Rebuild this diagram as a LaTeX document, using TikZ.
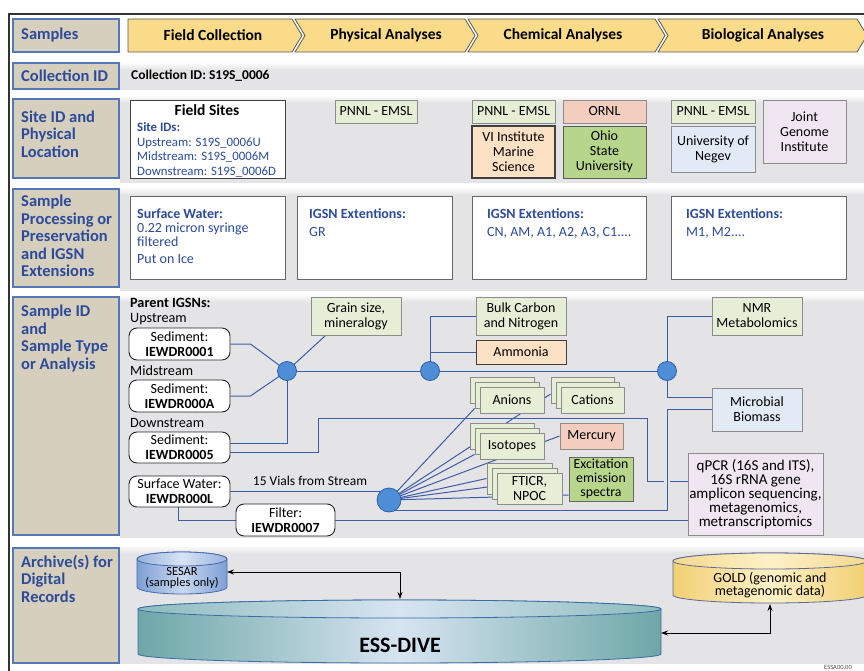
\documentclass[tikz,border=0pt]{standalone}
\usepackage{fontspec}
\setmainfont{Carlito}
\usetikzlibrary{arrows.meta,calc}
\definecolor{labtan}{HTML}{D6CFBD}
\definecolor{labblue}{HTML}{5477B5}
\definecolor{labtxt}{HTML}{2D4B9A}
\definecolor{lineblue}{HTML}{3D5DA9}
\definecolor{dotfill}{HTML}{4E8ED6}
\definecolor{dotdraw}{HTML}{2F5FAA}
\definecolor{chev}{HTML}{F9DB8A}
\definecolor{lgreen}{HTML}{E6EFD6}
\definecolor{peach}{HTML}{FDE1C4}
\definecolor{rose}{HTML}{F3CEBF}
\definecolor{mgreen}{HTML}{B7D68B}
\definecolor{lblue}{HTML}{E2EAF5}
\definecolor{lav}{HTML}{F0E6F1}
\definecolor{band}{HTML}{E4E4E6}
\definecolor{boxgray}{HTML}{8C8C8C}
\definecolor{ess1}{HTML}{6EA7A7}
\definecolor{ess2}{HTML}{D7E4F2}
\definecolor{ess3}{HTML}{8DBCBD}
\definecolor{essb}{HTML}{3A6CA6}
\definecolor{gold1}{HTML}{F2CF72}
\definecolor{gold2}{HTML}{FDF1C8}
\definecolor{goldb}{HTML}{5A6B99}
\definecolor{ses1}{HTML}{7E9FD6}
\definecolor{ses2}{HTML}{C8D8F0}
\definecolor{sesb}{HTML}{4769AE}
\pgfdeclarelayer{back}
\pgfdeclarelayer{wires}
\pgfsetlayers{back,wires,main}
\newcommand\mkbox[7]{\node[#6, minimum width={(#4)-(#2)}, minimum height={(#5)-(#3)}] (#1) at ({((#2)+(#4))/2},{((#3)+(#5))/2}) {#7};}
\newcommand\mkstack[6]{%
 \mkbox{#1c}{(#2)-10}{(#3)-10}{(#4)-10}{(#5)-10}{gbox}{}%
 \mkbox{#1b}{(#2)-5}{(#3)-5}{(#4)-5}{(#5)-5}{gbox}{}%
 \mkbox{#1}{#2}{#3}{#4}{#5}{gbox}{#6}}
\tikzset{
 lab/.style={draw=labblue, fill=labtan, line width=1.2pt, inner sep=0pt},
 labt/.style={text=labtxt, font=\fontsize{16.5}{17.5}\selectfont\bfseries, align=left, anchor=north west, inner sep=0pt},
 gbox/.style={draw=boxgray, fill=lgreen, line width=0.9pt, inner sep=0pt, align=center, font=\fontsize{14}{15}\selectfont},
 wbox/.style={draw=black!60, fill=white, line width=0.9pt, inner sep=0pt},
 rbox/.style={draw=black!85, fill=white, line width=0.9pt, rounded corners=8pt, inner sep=0pt, align=center, font=\fontsize{14}{15}\selectfont},
 hub/.style={circle, fill=dotfill, draw=dotdraw, line width=0.8pt, minimum size=19pt, inner sep=0pt},
 wire/.style={draw=lineblue, line width=1pt},
 chevt/.style={font=\fontsize{15.5}{17}\selectfont\bfseries, inner sep=0pt},
 chevs/.style={draw=black!65, fill=chev, line width=0.8pt},
 btxt/.style={text=labtxt, font=\fontsize{12.8}{14.6}\selectfont, align=left, anchor=north west, inner sep=0pt},
 ptxt/.style={text=labtxt, font=\fontsize{14}{14}\selectfont, align=left, anchor=north west, inner sep=0pt},
 plain/.style={font=\fontsize{14.2}{15}\selectfont, anchor=west, inner sep=0pt},
 arr/.style={draw=black, line width=0.9pt, {Stealth[length=7pt,width=5pt]}-{Stealth[length=7pt,width=5pt]}},
}
\begin{document}
\begin{tikzpicture}[x=1pt,y=-1pt]
\useasboundingbox (0,0) rectangle (864,671);
\begin{pgfonlayer}{back}
 \fill[white] (0,0) rectangle (864,671);
 \foreach \ya/\yb in {62/90, 95/183, 187/291, 294/538, 545/664} {
   \fill[band] (120,\ya) rectangle (864,\yb);
   \shade[top color=white, bottom color=band] (120,\ya) rectangle (864,\ya+8);
 }
\end{pgfonlayer}
% frame
\draw[black!80, line width=1.2pt] (864,14) -- (9,14) -- (9,671);
% row 1
\mkbox{L1}{13}{19}{119}{52}{lab}{}
\node[labt, anchor=west] (L1t) at (21,35.5) {Samples};
\path[chevs] (128,19) -- (292,19) -- (302,35.5) -- (292,52) -- (128,52) -- cycle;
\path[chevs] (295,19) -- (465,19) -- (475,35.5) -- (465,52) -- (295,52) -- (305,35.5) -- cycle;
\path[chevs] (468,19) -- (655,19) -- (665,35.5) -- (655,52) -- (468,52) -- (478,35.5) -- cycle;
\path[chevs] (658,19) -- (857,19) -- (867,35.5) -- (857,52) -- (658,52) -- (668,35.5) -- cycle;
\node[chevt] (c1) at (213,35.5) {Field Collection};
\node[chevt] (c2) at (386,35.5) {Physical Analyses};
\node[chevt] (c3) at (563,35.5) {Chemical Analyses};
\node[chevt] (c4) at (763,35.5) {Biological Analyses};
% row 2
\mkbox{L2}{13}{63}{119}{89}{lab}{}
\node[labt, anchor=west] (L2t) at (21,76) {Collection ID};
\node[font=\fontsize{13.5}{14}\selectfont\bfseries, anchor=west, inner sep=0pt] (cid) at (131,76) {Collection ID: S19S\_0006};
% row 3
\mkbox{L3}{13}{99}{119}{178}{lab}{}
\node[labt] (L3t) at (21,110.5) {Site ID and\\Physical\\Location};
\mkbox{fs}{130}{100}{285}{178}{wbox, draw=black!75}{}
\node[font=\fontsize{15.5}{16}\selectfont\bfseries] (fst) at (207,110) {Field Sites};
\node[btxt] (fsl) at (137,122.5) {\textbf{Site IDs:}\\Upstream: S19S\_0006U\\Midstream: S19S\_0006M\\Downstream: S19S\_0006D};
\mkbox{p1}{335}{100}{417}{123}{gbox}{PNNL - EMSL}
\mkbox{p2}{472}{100}{555}{123}{gbox}{PNNL - EMSL}
\mkbox{ornl}{563}{100}{646}{123}{gbox, fill=rose}{ORNL}
\mkbox{vi}{472}{126}{555}{178}{gbox, fill=peach, draw=black!75, line width=1.3pt}{VI Institute\\Marine\\Science}
\mkbox{ohio}{563}{126}{646}{178}{gbox, fill=mgreen, draw=black!65}{Ohio\\State\\University}
\mkbox{p3}{671}{100}{755}{123}{gbox}{PNNL - EMSL}
\mkbox{neg}{671}{126}{755}{172}{gbox, fill=lblue}{University of\\Negev}
\mkbox{jgi}{763}{100}{846}{163}{gbox, fill=lav}{Joint\\Genome\\Institute}
% row 4
\mkbox{L4}{13}{189}{119}{287}{lab}{}
\node[labt] (L4t) at (21,195) {Sample\\Processing or\\Preservation\\and IGSN\\Extensions};
\mkbox{pb1}{130}{196}{285}{279}{wbox}{}
\node[ptxt] (pt1) at (137,208.5) {\textbf{Surface Water:}\\0.22 micron syringe\\filtered};
\node[ptxt, anchor=west] (pt1b) at (137,259) {Put on Ice};
\mkbox{pb2}{297}{196}{452}{279}{wbox}{}
\node[ptxt] (pt2) at (309,208.5) {\textbf{IGSN Extentions:}\\[4pt]GR};
\mkbox{pb3}{472}{196}{646}{279}{wbox}{}
\node[ptxt] (pt3) at (487,208.5) {\textbf{IGSN Extentions:}\\[4pt]CN, AM, A1, A2, A3, C1....};
\mkbox{pb4}{671}{196}{846}{279}{wbox}{}
\node[ptxt] (pt4) at (686,208.5) {\textbf{IGSN Extentions:}\\[4pt]M1, M2....};
% row 5
\mkbox{L5}{13}{297}{119}{535}{lab}{}
\node[labt] (L5t) at (21,305) {Sample ID\\and\\Sample Type\\or Analysis};
\node[plain, font=\fontsize{14.2}{15}\selectfont\bfseries] (pig) at (130,303) {Parent IGSNs:};
\node[plain] (ups) at (130,319) {Upstream};
\node[plain] (mids) at (130,371) {Midstream};
\node[plain] (downs) at (130,423) {Downstream};
\mkbox{sed1}{129}{328}{230}{360}{rbox}{Sediment:\\\textbf{IEWDR0001}}
\mkbox{sed2}{129}{380}{230}{412}{rbox}{Sediment:\\\textbf{IEWDR000A}}
\mkbox{sed3}{129}{432}{230}{463}{rbox}{Sediment:\\\textbf{IEWDR0005}}
\mkbox{sw}{129}{476}{230}{507}{rbox}{Surface Water:\\\textbf{IEWDR000L}}
\mkbox{filt}{236}{504}{335}{536}{rbox}{Filter:\\\textbf{IEWDR0007}}
\mkbox{grain}{311}{297}{401}{335}{gbox}{Grain size,\\mineralogy}
\mkbox{bulk}{476}{297}{566}{335}{gbox}{Bulk Carbon\\and Nitrogen}
\mkbox{amm}{476}{340}{566}{364}{gbox, fill=peach, draw=black!75, line width=1pt}{Ammonia}
\mkbox{nmr}{712}{297}{802}{335}{gbox}{NMR\\Metabolomics}
\mkbox{mic}{712}{388}{802}{431}{gbox, fill=lblue}{Microbial\\Biomass}
\mkbox{qpcr}{688}{453}{823}{535}{gbox, fill=lav, font=\fontsize{15}{13.9}\selectfont}{qPCR (16S and ITS),\\16S rRNA gene\\amplicon sequencing,\\metagenomics,\\metranscriptomics}
\mkstack{an}{480}{387}{544}{413}{Anions}
\mkstack{ca}{561}{387}{624}{413}{Cations}
\mkstack{iso}{480}{433}{544}{459}{Isotopes}
\mkstack{ft}{497}{473}{562}{504}{FTICR,\\NPOC}
\mkbox{merc}{560}{423}{623}{449}{gbox, fill=rose}{Mercury}
\mkbox{exc}{569}{457}{633}{501}{gbox, fill=mgreen, draw=black!60, font=\fontsize{13.8}{14}\selectfont}{Excitation\\emission\\spectra}
\node[hub] (h1) at (287,371) {};
\node[hub] (h2) at (430,371) {};
\node[hub] (h3) at (667,371) {};
\node[hub, minimum size=24pt] (h4) at (389,500) {};
\node[plain, font=\fontsize{13.5}{15}\selectfont, anchor=center] (vials) at (310,481) {15 Vials from Stream};
\begin{pgfonlayer}{wires}
 \draw[wire] (sed1.east) -- ++(20,0) -- (h1.center);
 \draw[wire] (sed2.east) -- ++(20,0) -- (h1.center);
 \draw[wire] ($(sed3.east)+(0,-4.5)$) -| (h1.center);
 \draw[wire] (h1.center) -- ($(grain.south west)+(15,0)$);
 \draw[wire] (h1.center) -- (h3.center);
 \draw[wire] (h2.center) |- (bulk.west);
 \draw[wire] (h2.center) |- (amm.west);
 \draw[wire] (h3.center) |- (nmr.west);
 \draw[wire] (h3.center) |- ($(mic.west)+(0,-12.5)$);
 \draw[wire] ($(sed3.east)+(0,4.5)$) -- (318,452) -- (318,418) -- (647,418) -- (647,481) -- (664,481);
 \draw[wire] (670,481) -- ($(qpcr.west)+(0,-13)$);
 \draw[wire] (h4.center) -- ++(0,10) -- (667,510) -- (667,409.5) -- (mic.west);
 \draw[wire] (sw.east) -- (sw.east -| h4.center);
 \draw[wire] ($(sw.south)+(-1.5,0)$) |- (filt.west);
 \draw[wire] (filt.east) -- (filt.east -| qpcr.west);
 \draw[wire] (h4.center) -- (anb.south west);
 \draw[wire] (h4.center) -- ($(cac.west)+(0,4)$);
 \draw[wire] (h4.center) -- (isob.south west);
 \draw[wire] (h4.center) -- (merc.west);
 \draw[wire] (h4.center) -- (ftc.west);
 \draw[wire] (h4.center) -- ($(ftb.west)+(0,3)$);
 \draw[wire] (h4.center) -- ($(exc.west)+(0,16)$);
\end{pgfonlayer}
% row 6
\mkbox{L6}{13}{548}{119}{663}{lab}{}
\node[labt] (L6t) at (21,555) {Archive(s) for\\Digital\\Records};
% SESAR
\path[draw=sesb, line width=0.8pt, left color=ses1, right color=ses1, middle color=ses2] (137,559) -- (137,587) arc[start angle=180, end angle=360, x radius=45pt, y radius=7pt] -- (227,559) arc[start angle=0, end angle=180, x radius=45pt, y radius=7pt] -- cycle;
\path[draw=sesb, line width=0.8pt, left color=ses1!80, right color=ses1!80, middle color=ses2!70!white] (182,559) ellipse[x radius=45pt, y radius=7pt];
\node[font=\fontsize{12.5}{11.5}\selectfont, align=center, inner sep=0pt] (sesar) at (182,578) {SESAR\\(samples only)};
% GOLD
\path[draw=goldb, line width=0.8pt, left color=gold1, right color=gold1, middle color=gold2] (673,561) -- (673,595) arc[start angle=180, end angle=360, x radius=97pt, y radius=8pt] -- (867,561) arc[start angle=0, end angle=180, x radius=97pt, y radius=8pt] -- cycle;
\path[draw=goldb, line width=0.8pt, left color=gold1!80!white, right color=gold1!80!white, middle color=gold2] (770,561) ellipse[x radius=97pt, y radius=8pt];
\node[font=\fontsize{14}{13.5}\selectfont, align=center, inner sep=0pt] (gold) at (770,585) {GOLD (genomic and\\metagenomic data)};
% ESS-DIVE
\path[draw=essb, line width=0.8pt, left color=ess1, right color=ess1, middle color=ess2] (138,609) -- (138,654) arc[start angle=180, end angle=360, x radius=261.5pt, y radius=9pt] -- (661,609) arc[start angle=0, end angle=180, x radius=261.5pt, y radius=9pt] -- cycle;
\path[draw=essb, line width=0.8pt, left color=ess3, right color=ess3, middle color=ess2] (399.5,609) ellipse[x radius=261.5pt, y radius=9pt];
\node[font=\fontsize{22}{24}\selectfont\bfseries, inner sep=0pt] (ess) at (400,645) {ESS-DIVE};
\coordinate (sesE) at (227,572);
\coordinate (essT) at (400,599);
\coordinate (essE) at (661,633);
\coordinate (goldB) at (770,604);
\draw[arr] (sesE) -| (essT);
\draw[arr] (essE) -| (goldB);
\node[font=\fontsize{6.5}{7}\selectfont, anchor=west, text=black!70, inner sep=0pt] (fig) at (824,667) {ESSA00.00};
\end{tikzpicture}
\end{document}
